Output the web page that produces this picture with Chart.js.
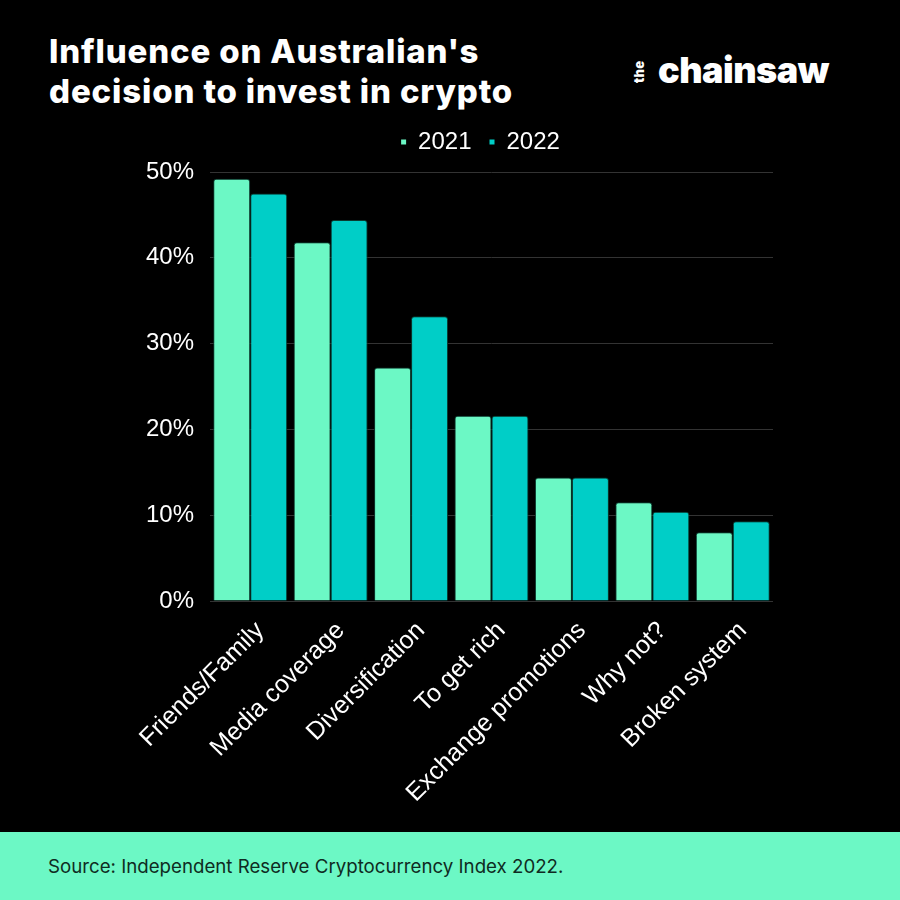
<!DOCTYPE html>
<html>
<head>
<meta charset="utf-8">
<script src="https://cdn.jsdelivr.net/npm/chart.js@4/dist/chart.umd.min.js"></script>
<style>
  html, body { margin: 0; padding: 0; background: #000; }
  body { width: 900px; height: 900px; position: relative; overflow: hidden; }
  #title { position: absolute; left: 49px; top: 32px; color: #fff; font-family: Inter, sans-serif; font-weight: 800; font-size: 33px; line-height: 39.5px; letter-spacing: 0.85px; }
  #logo { position: absolute; left: 632px; top: 48px; color: #fff; font-family: Inter, sans-serif; font-weight: 900; }
  #logo .the { display: inline-block; position: absolute; left: 1px; top: 35px; font-size: 13px; line-height: 12px; letter-spacing: 0.3px; transform: rotate(-90deg); transform-origin: left top; }
  #logo .main { position: absolute; left: 26px; top: 0px; font-size: 36px; letter-spacing: -0.5px; line-height: 44px; }
  #chartBox { position: absolute; left: 0; top: 120px; width: 900px; height: 712px; }
  #footer { position: absolute; left: 0; top: 832px; width: 900px; height: 68px; background: #6cf8c5; }
  #footer span { position: absolute; left: 48px; top: 24px; font-family: Inter, sans-serif; font-size: 18.7px; color: #0f2b22; line-height: 22px; }
</style>
</head>
<body>
<div id="title">Influence on Australian's<br>decision to invest in crypto</div>
<div id="logo"><span class="the">the</span><span class="main">chainsaw</span></div>
<div id="chartBox"><canvas id="c" width="900" height="712"></canvas></div>
<div id="footer"><span>Source: Independent Reserve Cryptocurrency Index 2022.</span></div>
<script>
const categories = ["Friends/Family", "Media coverage", "Diversification", "To get rich", "Exchange promotions", "Why not?", "Broken system"];
const seriesNames = ["2021", "2022"];
const values2021 = [49.2, 41.8, 27.2, 21.6, 14.4, 11.5, 8.0];
const values2022 = [47.5, 44.4, 33.2, 21.6, 14.4, 10.4, 9.3];
const yTicks = [0, 10, 20, 30, 40, 50];

const colors = ["#6cf8c5", "#00cec7"];

const legendShift = {
  id: 'legendShift',
  afterLayout(chart) {
    const lg = chart.legend;
    if (!lg) return;
    lg.left -= 11; lg.right -= 11;
    lg.top -= 8; lg.bottom -= 8;
  }
};

new Chart(document.getElementById('c'), {
  type: 'bar',
  plugins: [legendShift],
  data: {
    labels: categories,
    datasets: [
      { label: seriesNames[0], data: values2021, backgroundColor: colors[0], borderColor: '#0a3a2e', borderWidth: 1, borderRadius: 3, borderSkipped: 'bottom', barPercentage: 1, categoryPercentage: 0.92 },
      { label: seriesNames[1], data: values2022, backgroundColor: colors[1], borderColor: '#0a3a2e', borderWidth: 1, borderRadius: 3, borderSkipped: 'bottom', barPercentage: 1, categoryPercentage: 0.92 }
    ]
  },
  options: {
    responsive: false,
    animation: false,
    devicePixelRatio: 1,
    layout: { padding: { left: 0, right: 127, top: 0, bottom: 0 } },
    plugins: {
      tooltip: { enabled: false },
      legend: {
        display: true,
        position: 'top',
        fullSize: false,
        labels: {
          color: '#fff',
          font: { family: 'Liberation Sans, Arial, sans-serif', size: 24 },
          boxWidth: 5,
          boxHeight: 5,
          padding: 18,
          generateLabels: (chart) => chart.data.datasets.map((ds, i) => ({
            text: ds.label, fillStyle: ds.backgroundColor, strokeStyle: ds.backgroundColor, lineWidth: 0, datasetIndex: i, hidden: false, fontColor: '#fff'
          }))
        }
      }
    },
    scales: {
      x: {
        grid: { display: false },
        border: { display: false },
        ticks: {
          color: '#fff',
          font: { family: 'Liberation Sans, Arial, sans-serif', size: 25 },
          minRotation: 45, maxRotation: 45, autoSkip: false, padding: 7, labelOffset: 10
        },
        afterFit: (s) => { s.height = 231; }
      },
      y: {
        min: 0, max: 50,
        afterBuildTicks: (s) => { s.ticks = yTicks.map(v => ({ value: v })); },
        grid: { color: '#333333', lineWidth: 1, drawTicks: false },
        border: { display: false },
        ticks: {
          color: '#fff',
          font: { family: 'Liberation Sans, Arial, sans-serif', size: 24 },
          padding: 16,
          callback: (v) => v + '%'
        },
        afterFit: (s) => { s.width = 210; }
      }
    }
  }
});
</script>
</body>
</html>
